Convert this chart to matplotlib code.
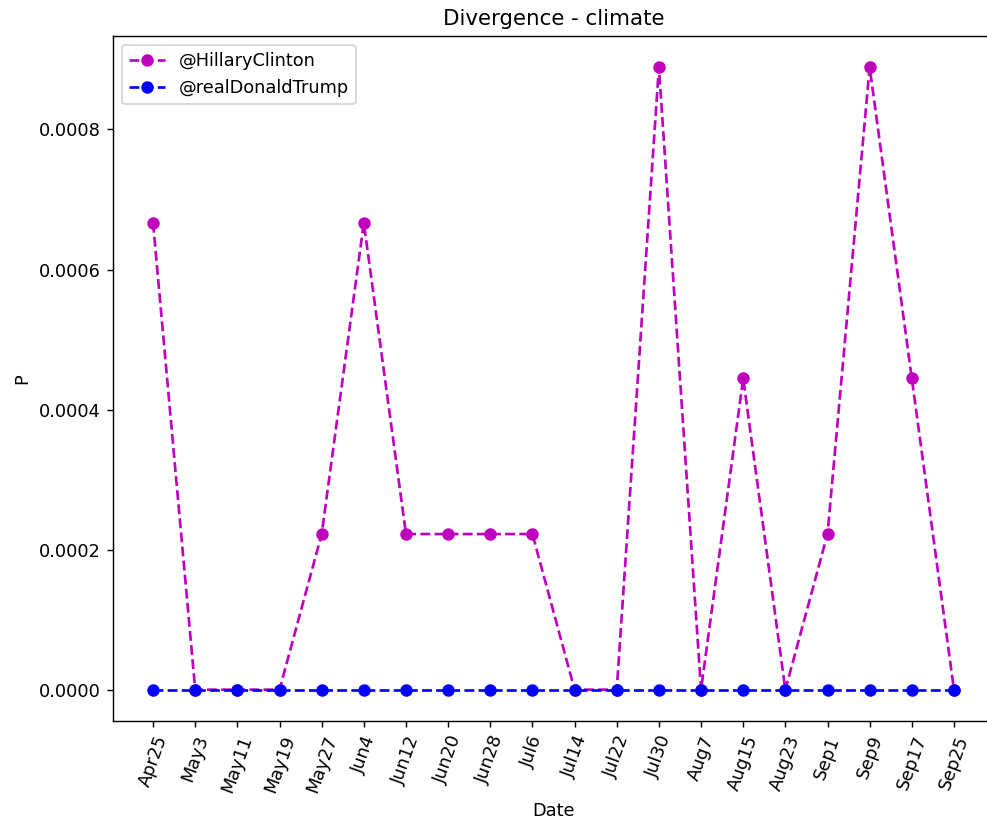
import matplotlib
matplotlib.use("Agg")
import matplotlib.pyplot as plt

dates = ["Apr25", "May3", "May11", "May19", "May27", "Jun4", "Jun12", "Jun20",
         "Jun28", "Jul6", "Jul14", "Jul22", "Jul30", "Aug7", "Aug15", "Aug23",
         "Sep1", "Sep9", "Sep17", "Sep25"]

unit = 1 / 4500
hillary = [3 * unit, 0, 0, 0, unit, 3 * unit, unit, unit, unit, unit,
           0, 0, 4 * unit, 0, 2 * unit, 0, unit, 4 * unit, 2 * unit, 0]
trump = [0] * 20

dpi = 128
fig = plt.figure(figsize=(987 / dpi, 820 / dpi), dpi=dpi)
ax = fig.add_axes([0.1145, 0.121, 0.8926, 0.835])

x = list(range(len(dates)))
ax.plot(x, hillary, "m--o", label="@HillaryClinton")
ax.plot(x, trump, "b--o", label="@realDonaldTrump")

ax.set_xticks(x)
ax.set_xticklabels(dates, rotation=70)
ax.set_xlabel("Date")
ax.set_ylabel("P")
ax.set_title("Divergence - climate")
ax.legend(loc="upper left")

fig.savefig("out.png", dpi=dpi)
